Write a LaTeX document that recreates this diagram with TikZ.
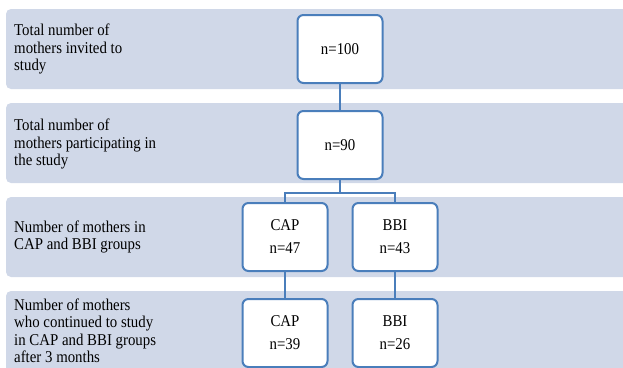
\documentclass[tikz,border=0pt]{standalone}
\usepackage{fontspec}
\setmainfont{Liberation Serif}
\newfontfamily\narrowserif[FakeStretch=0.9]{Liberation Serif}
\usetikzlibrary{positioning, calc}
\definecolor{bandColor}{HTML}{D0D8E8}
\definecolor{boxColor}{HTML}{4A7EBB}

\begin{document}
\begin{tikzpicture}[
  x=1pt, y=-1pt,
  band/.style={
    fill=bandColor,
    rounded corners=5pt
  },
  label/.style={
    anchor=west,
    align=left,
    inner sep=0pt,
    font=\narrowserif\fontsize{16.5}{17.5}\selectfont
  },
  countbox/.style={
    rectangle,
    draw=boxColor,
    fill=white,
    rounded corners=6pt,
    line width=2pt,
    align=center,
    minimum width=85pt,
    minimum height=68pt,
    inner sep=2pt,
    font=\narrowserif\fontsize{16.5}{23}\selectfont
  },
  link/.style={
    draw=boxColor,
    line width=1.5pt
  }
]
  \clip (0,0) rectangle (623,367);

  % background bands
  \fill[band] (6,9) rectangle (640,89);
  \fill[band] (6,103) rectangle (640,183);
  \fill[band] (6,197) rectangle (640,277);
  \fill[band] (6,291) rectangle (640,380);

  % Row labels
  \node[label] (invitedText) at (14,49) {Total number of\\mothers invited to\\study};
  \node[label] (partText) at (14,144) {Total number of\\mothers participating in\\the study};
  \node[label] (groupText) at (14,237) {Number of mothers in\\CAP and BBI groups};
  \node[label] (contText) at (14,331) {Number of mothers\\who continued to study\\in CAP and BBI groups\\after 3 months};

  % Count boxes
  \node[countbox] (invited) at (340,49) {n=100};
  \node[countbox] (part) [below=26pt of invited] {n=90};
  \node[countbox] (capA) at (285,237) {CAP\\n=47};
  \node[countbox] (bbiA) at (395,237) {BBI\\n=43};
  \node[countbox] (capB) [below=26pt of capA] {CAP\\n=39};
  \node[countbox] (bbiB) [below=26pt of bbiA] {BBI\\n=26};

  % Connect boxes
  \coordinate (split) at ($(part.south)+(0,13)$);
  \draw[link] (invited.south) -- (part.north);
  \draw[link] (part.south) -- (split);
  \draw[link] (split) -| (capA.north);
  \draw[link] (split) -| (bbiA.north);
  \draw[link] (capA.south) -- (capB.north);
  \draw[link] (bbiA.south) -- (bbiB.north);
\end{tikzpicture}
\end{document}
